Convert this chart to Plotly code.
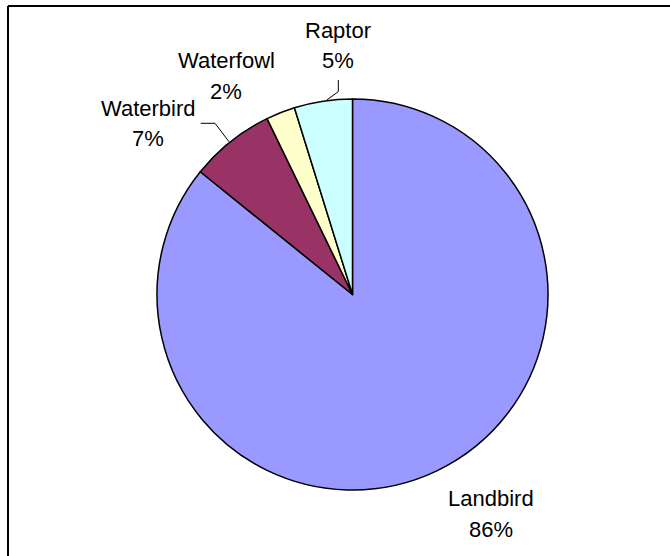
import plotly.graph_objects as go

categories = ["Landbird", "Waterbird", "Waterfowl", "Raptor"]
values = [85.8, 7.0, 2.4, 4.8]
colors = ["#9999FF", "#993366", "#FFFFCC", "#CCFFFF"]

W, H = 670, 556
total = sum(values)
pct = [f"{round(v / total * 100)}%" for v in values]

def px(x):
    return x / W

def py(y):
    return 1 - y / H

cx, cy, r = 352.5, 294.5, 195.5

fig = go.Figure(go.Pie(
    labels=categories,
    values=values,
    sort=False,
    direction="clockwise",
    rotation=0,
    marker=dict(colors=colors, line=dict(color="black", width=1.5)),
    textinfo="none",
    hoverinfo="label+percent",
    domain=dict(x=[px(cx - r), px(cx + r)], y=[py(cy + r), py(cy - r)]),
    showlegend=False,
))

# label placements (pixel centres of the two text lines)
label_pos = {
    "Raptor": (338, 31, 61),
    "Waterfowl": (226, 61, 92),
    "Waterbird": (148, 108, 138),
    "Landbird": (491, 498, 529),
}
annotations = []
for name, p in zip(categories, pct):
    x, y1, y2 = label_pos[name]
    for txt, yy in ((name, y1), (p, y2)):
        annotations.append(dict(
            x=px(x), y=py(yy), xref="paper", yref="paper",
            text=txt, showarrow=False, xanchor="center", yanchor="middle",
            font=dict(family="Liberation Sans, Arial", size=22, color="black"),
        ))

shapes = [
    # chart-area border (top and left visible)
    dict(type="line", xref="paper", yref="paper", x0=px(8), y0=py(6), x1=px(680), y1=py(6),
         line=dict(color="black", width=2)),
    dict(type="line", xref="paper", yref="paper", x0=px(8), y0=py(6), x1=px(8), y1=py(570),
         line=dict(color="black", width=2)),
    # leader lines
    dict(type="path", xref="paper", yref="paper",
         path=f"M {px(338.3)} {py(80)} L {px(338.3)} {py(91.7)} L {px(326.7)} {py(100)}",
         line=dict(color="black", width=1)),
    dict(type="path", xref="paper", yref="paper",
         path=f"M {px(200.7)} {py(123.3)} L {px(215)} {py(123.3)} L {px(229)} {py(141.7)}",
         line=dict(color="black", width=1)),
]

fig.update_layout(
    width=W, height=H,
    margin=dict(l=0, r=0, t=0, b=0),
    paper_bgcolor="white",
    plot_bgcolor="white",
    annotations=annotations,
    shapes=shapes,
)

fig.write_html("out.html")
